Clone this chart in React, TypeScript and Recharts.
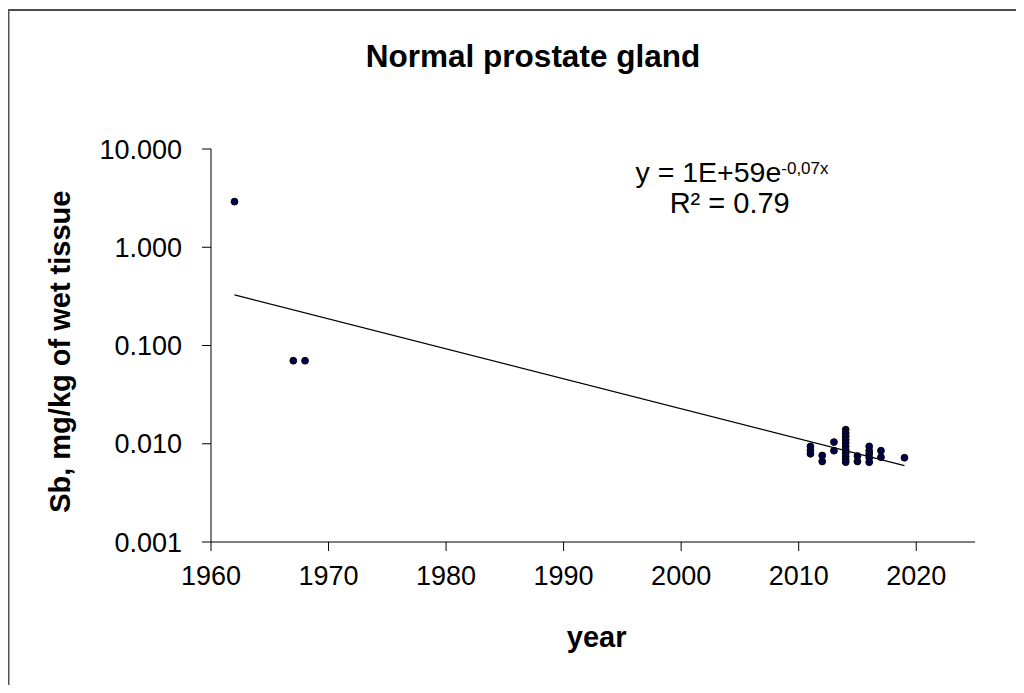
import { Scatter, ScatterChart, XAxis, YAxis } from "recharts";

const pointYears = [
  1962, 1967, 1968,
  2011, 2011, 2011,
  2012, 2012,
  2013, 2013,
  2014, 2014, 2014, 2014, 2014, 2014, 2014, 2014, 2014, 2014, 2014,
  2015, 2015,
  2016, 2016, 2016, 2016, 2016,
  2017, 2017,
  2019,
];

const pointValues = [
  2.91, 0.07, 0.07,
  0.0094, 0.0085, 0.0079,
  0.0076, 0.0066,
  0.0104, 0.0085,
  0.0139, 0.0128, 0.0119, 0.011, 0.0102, 0.0094, 0.0087, 0.008, 0.0074, 0.0069, 0.0065,
  0.0075, 0.0066,
  0.0094, 0.0085, 0.0079, 0.0072, 0.0065,
  0.0085, 0.0073,
  0.0072,
];

const trendYears = [1962, 2019];
const trendValues = [0.327, 0.006];

const yearTicks = [1960, 1970, 1980, 1990, 2000, 2010, 2020];
const sbTicks = [0.001, 0.01, 0.1, 1, 10];

const points = pointYears.map((x, i) => ({ x, y: pointValues[i] }));
const trend = trendYears.map((x, i) => ({ x, y: trendValues[i] }));

const font = "'Liberation Sans', Arial, sans-serif";

function Dot(props: any) {
  return <circle cx={props.cx} cy={props.cy} r={3.4} fill="#00004d" stroke="#000" strokeWidth={1} />;
}

export default function App() {
  return (
    <div
      style={{
        position: "relative",
        width: 1016,
        height: 677,
        overflow: "hidden",
        fontFamily: font,
        background: "#fff",
      }}
    >
      <ScatterChart width={1016} height={677} margin={{ top: 141, right: 49, left: 83, bottom: 83 }}>
        <XAxis
          type="number"
          dataKey="x"
          domain={[1960, 2025]}
          ticks={yearTicks}
          height={60}
          stroke="#000"
          tickSize={9}
          tickMargin={15}
          tick={{ fill: "#000", fontSize: 27, fontFamily: font }}
        />
        <YAxis
          type="number"
          dataKey="y"
          scale="log"
          domain={[0.001, 10]}
          ticks={sbTicks}
          allowDataOverflow
          width={120}
          stroke="#000"
          tickSize={9}
          tickMargin={20}
          tickFormatter={(v: number) => v.toFixed(3)}
          tick={{ fill: "#000", fontSize: 27, fontFamily: font }}
        />
        <Scatter
          data={trend}
          line={{ stroke: "#000", strokeWidth: 1.2 }}
          shape={() => <g />}
          isAnimationActive={false}
        />
        <Scatter data={points} shape={Dot} isAnimationActive={false} />
      </ScatterChart>
      <svg
        width={1016}
        height={677}
        style={{ position: "absolute", left: 0, top: 0, pointerEvents: "none" }}
      >
        <line x1={0} y1={2} x2={1016} y2={2} stroke="#111" strokeWidth={1.5} />
        <line x1={0.5} y1={2} x2={0.5} y2={677} stroke="#555" strokeWidth={2} />
        <text x={525} y={58.7} textAnchor="middle" fontSize={31.5} fontWeight="bold" fontFamily={font}>
          Normal prostate gland
        </text>
        <text
          x={62}
          y={343.7}
          textAnchor="middle"
          fontSize={29}
          fontWeight="bold"
          fontFamily={font}
          transform="rotate(-90, 62, 343.7)"
        >
          Sb, mg/kg of wet tissue
        </text>
        <text x={588.7} y={638.7} textAnchor="middle" fontSize={29} fontWeight="bold" fontFamily={font}>
          year
        </text>
        <text x={724} y={173.7} textAnchor="middle" fontSize={28.5} fontFamily={font}>
          y = 1E+59e
          <tspan fontSize={17} dy={-8}>
            -0,07x
          </tspan>
        </text>
        <text x={721.7} y={205.3} textAnchor="middle" fontSize={29} fontFamily={font}>
          R² = 0.79
        </text>
      </svg>
    </div>
  );
}
